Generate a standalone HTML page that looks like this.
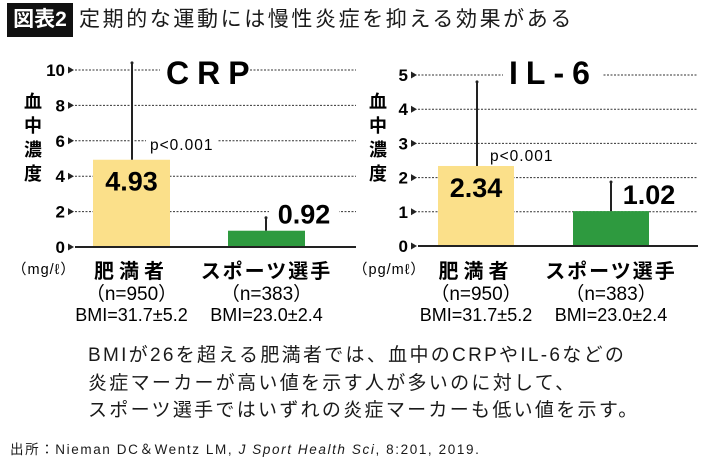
<!DOCTYPE html>
<html><head><meta charset="utf-8">
<style>
body{margin:0;width:710px;height:463px;background:#fff;overflow:hidden;font-family:"Liberation Sans","Noto Sans CJK JP",sans-serif;color:#1a1a1a}
.abs{position:absolute;white-space:nowrap}
</style></head>
<body>
<div class="abs" style="left:7px;top:3px;width:66px;height:34px;background:#111;color:#fff;font-size:21px;font-weight:bold;line-height:34px;text-align:center">図表2</div>
<div class="abs" style="left:79px;top:4px;font-size:21px;line-height:32px;letter-spacing:2.6px">定期的な運動には慢性炎症を抑える効果がある</div>
<svg id="chart" width="710" height="340" style="position:absolute;left:0;top:0"></svg>
<div class="abs" style="left:88px;top:342px;font-size:19px;line-height:27.5px;letter-spacing:2.3px">BMIが26を超える肥満者では、血中のCRPやIL-6などの<br>炎症マーカーが高い値を示す人が多いのに対して、<br>スポーツ選手ではいずれの炎症マーカーも低い値を示す。</div>
<div class="abs" style="left:10px;top:438px;font-size:13.5px;letter-spacing:1.6px">出所：Nieman DC＆Wentz LM, <i>J Sport Health Sci</i>, 8:201, 2019.</div>
<script>
const categories=["肥満者","スポーツ選手"];
const nLabels=["（n=950）","（n=383）"];
const bmiLabels=["BMI=31.7±5.2","BMI=23.0±2.4"];
const crpValues=[4.93,0.92];
const crpErrTop=[10.4,1.65];
const crpTicks=[0,2,4,6,8,10];
const il6Values=[2.34,1.02];
const il6ErrTop=[4.8,1.87];
const il6Ticks=[0,1,2,3,4,5];
const NS="http://www.w3.org/2000/svg";
const svg=document.getElementById('chart');
function el(t,a,txt){const e=document.createElementNS(NS,t);for(const k in a)e.setAttribute(k,a[k]);if(txt!==undefined)e.textContent=txt;svg.appendChild(e);return e;}
function panel(o){
 const y=v=>o.y0-(v/o.max)*(o.y0-o.yTop);
 o.ticks.forEach(t=>{
  if(t>0){const g=el('line',{x1:o.ax,x2:o.ax2,y1:y(t),y2:y(t),stroke:'#333','stroke-width':1,'stroke-dasharray':'2,1.5'});
  }
  const tl=el('text',{x:o.ax-10,y:y(t)+6,'text-anchor':'end','font-size':17,'font-weight':'bold'},String(t));
  
  const ar=el('polygon',{points:`${o.ax-7},${y(t)-3.5} ${o.ax-1},${y(t)} ${o.ax-7},${y(t)+3.5}`,fill:'#222'});
  
 });
 el('rect',{x:o.titleX-6,y:50,width:o.titleW,height:40,fill:'#fff'});
 const tt=el('text',{x:o.titleX,y:84,'font-size':32,'font-weight':'bold','letter-spacing':8},o.title);
 
 o.vals.forEach((v,i)=>{
  const bx=o.bars[i];
  const b=el('rect',{x:bx,y:y(v),width:o.bw,height:o.y0-y(v),fill:i==0?'#fbe08a':'#2e9a3f'});
  
  const ex=o.errX[i];
  const e=el('line',{x1:ex,x2:ex,y1:y(v),y2:y(o.err[i]),stroke:'#222','stroke-width':2});
  
  el('circle',{cx:ex,cy:y(o.err[i]),r:1.5,fill:'#222'});
  let lx,ly;
  if(i==0){lx=bx+o.bw/2;ly=y(v)+31;}else{lx=ex+38;ly=y(v)-7;}
  if(i==1){el('rect',{x:lx-35,y:ly-24,width:70,height:28,fill:'#fff'});}
  const vl=el('text',{x:lx,y:ly,'text-anchor':'middle','font-size':27,'font-weight':'bold'},v.toFixed(2));
  
  const cx=bx+o.bw/2;
  const c=el('text',{x:cx,y:278,'text-anchor':'middle','font-size':20,'font-weight':'bold','letter-spacing':i==0?5:2},categories[i]);
  
  const n=el('text',{x:cx,y:300,'text-anchor':'middle','font-size':19},nLabels[i]);
  
  const m=el('text',{x:cx,y:321,'text-anchor':'middle','font-size':18},bmiLabels[i]);
  
 });
 el('rect',{x:o.pX-4,y:o.pY-15,width:72,height:20,fill:'#fff'});
 const p=el('text',{x:o.pX,y:o.pY,'font-size':15.5,'letter-spacing':1},'p<0.001');
 
 const ax=el('line',{x1:o.ax,x2:o.ax2,y1:o.y0,y2:o.y0,stroke:'#222','stroke-width':2});
 
 ['血','中','濃','度'].forEach((ch,k)=>{const t=el('text',{x:o.labX,y:108+k*24,'font-size':18,'font-weight':'bold'},ch);
  });
 const u=el('text',{x:o.unitX,y:274,'font-size':14.5,'letter-spacing':1},o.unit);
 
}
panel({y0:247,yTop:70,max:10,ax:75,ax2:356,ticks:crpTicks,vals:crpValues,err:crpErrTop,bars:[93,228],bw:77,errX:[132,266],
 title:'CRP',titleX:166,titleW:90,pX:150,pY:150,labX:24,unitX:12,unit:'（mg/ℓ）'});
panel({y0:246,yTop:75,max:5,ax:418,ax2:698,ticks:il6Ticks,vals:il6Values,err:il6ErrTop,bars:[438,573],bw:76,errX:[477,611],
 title:'IL-6',titleX:509,titleW:100,pX:490,pY:161,labX:369,unitX:353,unit:'（pg/mℓ）'});
</script>
</body></html>
